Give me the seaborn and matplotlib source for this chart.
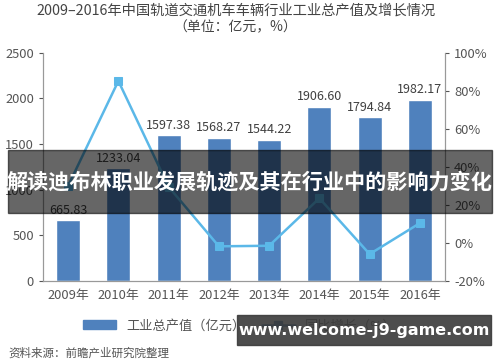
import numpy as np
import pandas as pd
import seaborn as sns
import matplotlib.pyplot as plt
from matplotlib.patches import Rectangle
from matplotlib.lines import Line2D
from matplotlib.patches import Patch

# данные с картинки
years = ['2009年', '2010年', '2011年', '2012年', '2013年', '2014年', '2015年', '2016年']
output = [665.83, 1233.04, 1597.38, 1568.27, 1544.22, 1906.60, 1794.84, 1982.17]
growth = [30.0, 85.2, 29.5, -1.8, -1.5, 23.5, -5.9, 10.4]

sns.set_style('white')
plt.rcParams['font.family'] = ['Noto Sans CJK SC', 'DejaVu Sans']

bar_color = '#4f81bd'
line_color = '#5bb8e8'
txt = '#555555'

df = pd.DataFrame({'year': years, 'output': output, 'growth': growth})

fig = plt.figure(figsize=(5, 3.62), dpi=100)
ax = fig.add_axes([0.086, 0.224, 0.804, 0.63])

sns.barplot(data=df, x='year', y='output', color=bar_color, width=0.48,
            saturation=1, ax=ax)
for i, v in enumerate(output):
    ax.text(i, v + 40, f'{v:.2f}', ha='center', va='bottom', fontsize=9, color='#404040')

ax.set_ylim(0, 2500)
ax.set_yticks(range(0, 2501, 500))
ax.set_xlim(-0.5, 7.5)
ax.set_xlabel('')
ax.set_ylabel('')
ax.tick_params(axis='both', labelsize=9.3, colors=txt, length=3)
ax.tick_params(axis='x', length=0, pad=6)

ax2 = ax.twinx()
sns.lineplot(x=np.arange(len(years)), y=growth, ax=ax2, color=line_color, lw=1.8,
             marker='s', markersize=6, markeredgecolor=line_color)
ax2.set_ylim(-20, 100)
ax2.set_yticks(range(-20, 101, 20))
ax2.set_yticklabels([f'{t}%' for t in range(-20, 101, 20)])
ax2.tick_params(axis='y', labelsize=9.3, colors=txt, length=3)

for a in (ax, ax2):
    a.spines['top'].set_visible(False)
    for s in ('left', 'right', 'bottom'):
        a.spines[s].set_color('#999999')
        a.spines[s].set_linewidth(0.8)

fig.text(0.472, 0.972, '2009–2016年中国轨道交通机车车辆行业工业总产值及增长情况',
         ha='center', va='center', fontsize=10.3, color='#444444')
fig.text(0.47, 0.925, '（单位：亿元，%）', ha='center', va='center', fontsize=10, color='#444444')

handles = [Patch(color=bar_color),
           Line2D([0], [0], color='#2e6b9e', lw=1.8, marker='s', markersize=6)]
fig.legend(handles, ['工业总产值（亿元）', '同比增长（%）'], loc='center',
           bbox_to_anchor=(0.48, 0.1), ncol=2, frameon=False, fontsize=9.5,
           labelcolor=txt, handlelength=2.5, columnspacing=1.2)

fig.text(0.016, 0.025, '资料来源：前瞻产业研究院整理', ha='left', va='center',
         fontsize=8.3, color='#555555')

# затемнённая плашка с заголовком поверх графика
fig.add_artist(Rectangle((0.016, 1 - 213 / 362), 0.968, 63 / 362, transform=fig.transFigure,
                         color='black', alpha=0.6, zorder=10))
fig.text(0.5, 1 - 182 / 362, '解读迪布林职业发展轨迹及其在行业中的影响力变化', ha='center',
         va='center', fontsize=15.2, color='white', fontweight='bold', zorder=11)

# водяной знак
fig.add_artist(Rectangle((237 / 500, 1 - 345 / 362), 254 / 500, 30 / 362, transform=fig.transFigure,
                         color='#3a3a3a', alpha=0.9, zorder=10))
fig.text(364 / 500, 1 - 330 / 362, 'www.welcome-j9-game.com', ha='center', va='center',
         fontsize=11.5, color='white', fontweight='bold', family='DejaVu Sans', zorder=11)

fig.savefig('out.png', dpi=100)
